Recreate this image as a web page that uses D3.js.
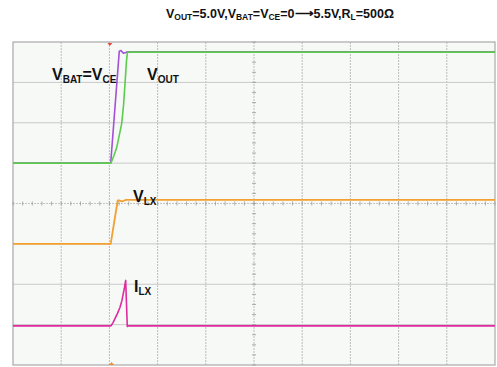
<!DOCTYPE html>
<html><head><meta charset="utf-8">
<script src="https://cdn.jsdelivr.net/npm/d3@7"></script>
<style>body{margin:0;background:#fff;}svg{display:block;font-family:"Liberation Sans",Arial,sans-serif;}</style>
</head><body>
<svg id="c" width="497" height="367"></svg>
<script>
// Data in screen divisions (x: 0..10 time divs, y: -4..4 volt/amp divs)
const xDivs = [0,1,2,3,4,5,6,7,8,9,10];
const yDivs = [-4,-3,-2,-1,0,1,2,3,4];
const vbatT = [0, 2.027, 2.205, 2.24, 2.29, 2.34, 2.375, 10];
const vbatV = [1.0, 1.0, 3.77, 3.79, 3.72, 3.74, 3.76, 3.76];
const voutT = [0, 2.027, 2.054, 2.095, 2.151, 2.199, 2.255, 2.293, 2.324, 2.355, 2.375, 10];
const voutV = [1.0, 1.0, 1.064, 1.19, 1.386, 1.658, 1.98, 2.43, 2.97, 3.54, 3.75, 3.75];
const vlxT = [0, 2.027, 2.172, 2.21, 2.255, 2.30, 2.344, 10];
const vlxV = [-1.0, -1.0, 0.074, 0.074, 0.054, 0.067, 0.09, 0.09];
const ilxT = [0, 2.033, 2.075, 2.116, 2.168, 2.22, 2.261, 2.288, 2.313, 2.338, 2.371, 2.396, 10];
const ilxV = [-3.03, -3.03, -2.95, -2.85, -2.72, -2.57, -2.40, -2.23, -2.08, -1.905, -3.045, -3.03, -3.03];
const triggerT = 2.01;
const bottomMarkT = 2.045;

const svg = d3.select("#c");
const x = d3.scaleLinear().domain([0,10]).range([13,495]);
const y = d3.scaleLinear().domain([-4,4]).range([365,42]);

// plot background
svg.append("rect").attr("x",x(0)).attr("y",y(4)).attr("width",x(10)-x(0)).attr("height",y(-4)-y(4))
  .attr("fill","#f7f9f7").attr("stroke","none");

// grid
svg.append("g").selectAll("line").data(xDivs.slice(1,-1)).join("line")
  .attr("x1",d=>x(d)).attr("x2",d=>x(d)).attr("y1",y(4)).attr("y2",y(-4))
  .attr("stroke","#bdbdbd").attr("stroke-width",1).attr("stroke-dasharray","2,1");
svg.append("g").selectAll("line").data(yDivs.slice(1,-1).filter(d=>d!==0)).join("line")
  .attr("x1",x(0)).attr("x2",x(10)).attr("y1",d=>y(d)).attr("y2",d=>y(d))
  .attr("stroke","#c8c8c8").attr("stroke-width",1);
// center axes
svg.append("line").attr("x1",x(0)).attr("x2",x(10)).attr("y1",y(0)).attr("y2",y(0))
  .attr("stroke","#c4c4c4").attr("stroke-width",1).attr("stroke-dasharray","2,1");
const minorX = d3.range(0,10.001,0.2);
svg.append("g").selectAll("line").data(minorX).join("line")
  .attr("x1",d=>x(d)).attr("x2",d=>x(d)).attr("y1",y(0)-2).attr("y2",y(0)+2)
  .attr("stroke","#999").attr("stroke-width",0.8);
const minorY = d3.range(-4,4.001,0.25);
svg.append("g").selectAll("line").data(minorY).join("line")
  .attr("x1",x(5)-2).attr("x2",x(5)+2).attr("y1",d=>y(d)).attr("y2",d=>y(d))
  .attr("stroke","#999").attr("stroke-width",0.8);

// frame
svg.append("rect").attr("x",x(0)).attr("y",y(4)).attr("width",x(10)-x(0)).attr("height",y(-4)-y(4))
  .attr("fill","none").attr("stroke","#a8a8a8").attr("stroke-width",1.2);

const line = d3.line().x(d=>x(d[0])).y(d=>y(d[1]));
function trace(t,v,color,w){
  svg.append("path").datum(t.map((d,i)=>[d,v[i]])).attr("d",line)
    .attr("fill","none").attr("stroke",color).attr("stroke-width",w).attr("stroke-linejoin","round");
}
trace(vbatT,vbatV,"#a450d8",1.6);
trace(voutT,voutV,"#5ccc4c",1.6);
trace(vlxT,vlxV,"#f2a030",1.8);
trace(ilxT,ilxV,"#e02a9e",1.6);

// markers
svg.append("path").attr("d",`M${x(triggerT)-2.5},${y(4)+1}L${x(triggerT)+2.5},${y(4)+1}L${x(triggerT)},${y(4)+4}Z`).attr("fill","#e84a3a");
svg.append("path").attr("d",`M${x(bottomMarkT)-2.5},${y(-4)}L${x(bottomMarkT)+2.5},${y(-4)}L${x(bottomMarkT)},${y(-4)-3}Z`).attr("fill","#f08a30");

// text helper: segments [text, isSub]
function label(xp,yp,segs,size,subSize,anchor){
  const t = svg.append("text").attr("x",xp).attr("y",yp).attr("font-weight","bold")
    .attr("font-size",size).attr("fill","#111").attr("text-anchor",anchor||"start");
  let sub=false;
  segs.forEach(([s,isSub])=>{
    const ts=t.append("tspan").text(s).attr("font-size",isSub?subSize:size);
    if(isSub && !sub) ts.attr("dy", size*0.18);
    if(!isSub && sub) ts.attr("dy", -size*0.18);
    sub=isSub;
  });
  return t;
}
label(280,18,[["V",0],["OUT",1],["=5.0V,V",0],["BAT",1],["=V",0],["CE",1],["=0\u27F65.5V,R",0],["L",1],["=500\u03A9",0]],12.5,8.5,"middle");
label(52,80,[["V",0],["BAT",1],["=V",0],["CE",1]],16,10);
label(147,80,[["V",0],["OUT",1]],16,10);
label(133,202,[["V",0],["LX",1]],16,10);
label(134,292,[["I",0],["LX",1]],16,10);
</script>
</body></html>
